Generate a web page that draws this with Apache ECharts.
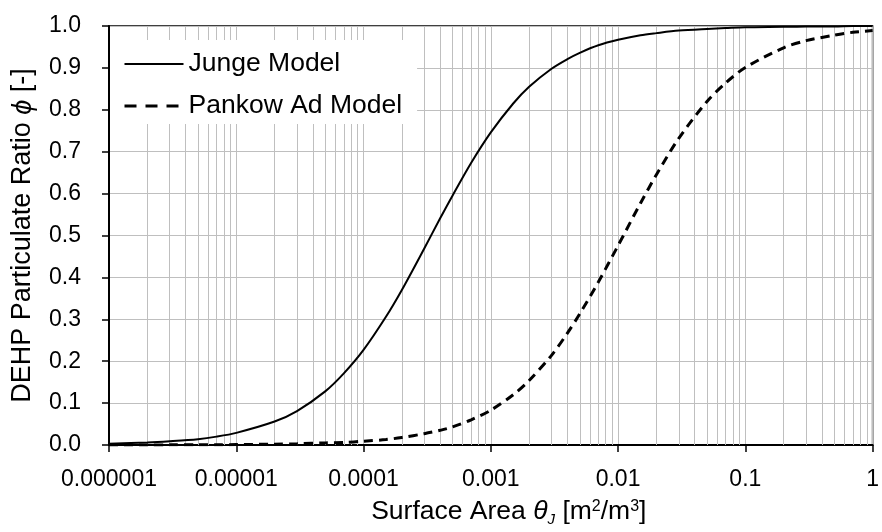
<!DOCTYPE html>
<html>
<head>
<meta charset="utf-8">
<script src="https://cdn.jsdelivr.net/npm/echarts@6/dist/echarts.min.js"></script>
<style>html,body{margin:0;padding:0;background:#fff;}#c{width:882px;height:532px;}</style>
</head>
<body>
<div id="c"></div>
<script>
// Surface area theta_J [m2/m3]
const surfaceArea = [1e-6, 2e-6, 3e-6, 5e-6, 7e-6, 1e-5, 2e-5, 3e-5, 5e-5, 7e-5,
  1e-4, 1.5e-4, 2e-4, 3e-4, 4e-4, 5e-4, 7e-4, 1e-3, 1.5e-3, 2e-3, 3e-3, 4e-3, 5e-3, 7e-3,
  1e-2, 1.5e-2, 2e-2, 3e-2, 5e-2, 7e-2, 0.1, 0.2, 0.3, 0.5, 0.7, 1];
const jungeModel = [0.003, 0.006, 0.009, 0.014, 0.020, 0.029, 0.056, 0.081, 0.128, 0.171,
  0.227, 0.306, 0.370, 0.469, 0.541, 0.595, 0.673, 0.746, 0.815, 0.855, 0.898, 0.921, 0.936, 0.954,
  0.967, 0.978, 0.983, 0.989, 0.993, 0.995, 0.997, 0.998, 0.999, 0.999, 1.0, 1.0];
const pankowAdModel = [0.0001, 0.0002, 0.0003, 0.0005, 0.0006, 0.001, 0.002, 0.003, 0.005, 0.006,
  0.009, 0.013, 0.018, 0.027, 0.035, 0.043, 0.060, 0.083, 0.120, 0.154, 0.214, 0.267, 0.313, 0.389,
  0.476, 0.577, 0.645, 0.732, 0.820, 0.864, 0.901, 0.948, 0.965, 0.978, 0.985, 0.989];
const xTickLabels = ['0.000001', '0.00001', '0.0001', '0.001', '0.01', '0.1', '1'];
const seriesNames = ['Junge Model', 'Pankow Ad Model'];

const FONT = 'Liberation Sans, Arial, sans-serif';
const GRID = '#bfbfbf';

// minor log gridlines (2..9 within each decade)
const minorLines = [];
for (let e = -6; e < 0; e++) {
  for (let m = 2; m <= 9; m++) minorLines.push({ xAxis: m * Math.pow(10, e) });
}

const chart = echarts.init(document.getElementById('c'), null, { renderer: 'canvas' });
chart.setOption({
  animation: false,
  backgroundColor: '#fff',
  textStyle: { fontFamily: FONT, color: '#000' },
  grid: { left: 109, right: 6, top: 26, bottom: 80, show: true, borderColor: '#000', borderWidth: 1.5, backgroundColor: 'transparent' },
  legend: {
    show: true,
    orient: 'vertical', left: 110, top: 40,
    backgroundColor: '#fff', padding: [9, 15, 3, 13],
    itemWidth: 59, itemHeight: 14, itemGap: 12,
    itemStyle: { color: 'rgba(0,0,0,0)', borderColor: 'rgba(0,0,0,0)', borderWidth: 0, opacity: 0 },
    textStyle: { fontFamily: FONT, fontSize: 26.5, color: '#000', lineHeight: 30 },
    data: [
      { name: seriesNames[0] },
      { name: seriesNames[1], lineStyle: { type: [12, 9], width: 3, color: '#000' } }
    ],
    z: 10
  },
  xAxis: {
    type: 'log', logBase: 10, min: 1e-6, max: 1, interval: 1,
    axisLine: { show: true, lineStyle: { color: '#000', width: 2 } },
    axisTick: { show: true, length: 7, inside: false, lineStyle: { color: '#000', width: 1.5 } },
    axisLabel: {
      fontFamily: FONT, fontSize: 23, color: '#000', margin: 23,
      formatter: function (v) { const i = Math.round(Math.log10(v)) + 6; return xTickLabels[i] || ''; }
    },
    splitLine: { show: true, lineStyle: { color: GRID, width: 1 } },
    name: 'Surface Area {i|θ}{sub|J} [m{sup|2}/m{sup|3}]',
    nameLocation: 'middle', nameGap: 52,
    nameTextStyle: {
      fontFamily: FONT, fontSize: 26.5, color: '#000', lineHeight: 30, padding: [0, 0, 0, 36],
      rich: {
        i: { fontFamily: FONT, fontSize: 26.5, fontStyle: 'italic', color: '#000', lineHeight: 30 },
        sub: { fontFamily: FONT, fontSize: 15, fontStyle: 'italic', color: '#000', verticalAlign: 'bottom', lineHeight: 30 },
        sup: { fontFamily: FONT, fontSize: 16, color: '#000', verticalAlign: 'top', lineHeight: 30, padding: [2, 0, 0, 0] }
      }
    }
  },
  yAxis: {
    type: 'value', min: 0, max: 1, interval: 0.1,
    axisLine: { show: true, lineStyle: { color: '#000', width: 2 } },
    axisTick: { show: true, length: 7, inside: false, lineStyle: { color: '#000', width: 1.5 } },
    axisLabel: { fontFamily: FONT, fontSize: 23, color: '#000', margin: 28, formatter: function (v) { return v.toFixed(1); } },
    splitLine: { show: true, lineStyle: { color: GRID, width: 1 } },
    name: 'DEHP Particulate Ratio {i|ϕ} [-]',
    nameLocation: 'middle', nameRotate: 90, nameGap: 71,
    nameTextStyle: {
      fontFamily: FONT, fontSize: 27, color: '#000', lineHeight: 30,
      rich: { i: { fontFamily: FONT, fontSize: 27, fontStyle: 'italic', color: '#000', lineHeight: 30 } }
    }
  },
  series: [
    {
      name: 'minor-grid', type: 'line', data: [], silent: true, z: 1,
      markLine: {
        silent: true, symbol: 'none', z: 1, animation: false, precision: 12,
        label: { show: false },
        lineStyle: { color: GRID, width: 1, type: 'solid' },
        emphasis: { disabled: true },
        data: minorLines
      }
    },
    {
      name: seriesNames[0], type: 'line', z: 3,
      data: surfaceArea.map((x, i) => [x, jungeModel[i]]),
      smooth: 0.3, showSymbol: false, symbol: 'none',
      lineStyle: { color: '#000', width: 2, type: 'solid' }, itemStyle: { color: '#000' }
    },
    {
      name: seriesNames[1], type: 'line', z: 3,
      data: surfaceArea.map((x, i) => [x, pankowAdModel[i]]),
      smooth: 0.3, showSymbol: false, symbol: 'none',
      lineStyle: { color: '#000', width: 3, type: [9, 6] }, itemStyle: { color: '#000' }
    }
  ]
});
</script>
</body>
</html>
